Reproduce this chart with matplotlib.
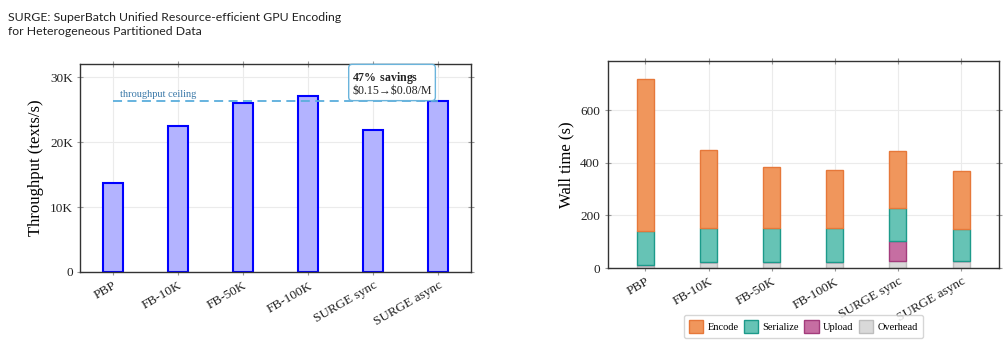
import numpy as np
import matplotlib
matplotlib.use("Agg")
import matplotlib.pyplot as plt

plt.rcParams['font.family'] = ['Liberation Serif', 'DejaVu Serif']
plt.rcParams['mathtext.fontset'] = 'custom'
plt.rcParams['mathtext.rm'] = 'Liberation Serif'
plt.rcParams['mathtext.bf'] = 'Liberation Serif:bold'

methods = ["PBP", "FB-10K", "FB-50K", "FB-100K", "SURGE sync", "SURGE async"]
throughput = [13750, 22500, 26100, 27100, 21900, 26400]
ceiling = 26400

# wall time breakdown (s), stacked bottom -> top
overhead = [13, 21, 21, 21, 25, 25]
upload = [0, 0, 0, 0, 79, 3]
serialize = [128, 131, 131, 131, 123, 120]
encode = [576, 295, 233, 219, 218, 219]

fig = plt.figure(figsize=(10.06, 3.46), dpi=100)
ax1 = fig.add_axes([0.080, 0.214, 0.388, 0.600])
ax2 = fig.add_axes([0.604, 0.2254, 0.389, 0.599])

fig.text(0.008, 0.965, "SURGE: SuperBatch Unified Resource-efficient GPU Encoding\nfor Heterogeneous Partitioned Data",
         family=['Lato', 'DejaVu Sans'], fontsize=8.8, va='top', ha='left', linespacing=1.35, color='#222')

x = np.arange(len(methods))


def style(ax):
    ax.grid(True, color='#ebebeb', lw=0.8)
    ax.set_axisbelow(True)
    ax.tick_params(direction='inout', length=4, color='#999', labelsize=9.5,
                   top=True, right=True, labelcolor='#222')
    for s in ax.spines.values():
        s.set_color('#333')
        s.set_linewidth(1.0)
    ax.set_xticks(x)
    ax.set_xticklabels(methods, rotation=30, ha='right', rotation_mode='anchor')


# left: throughput
ax1.bar(x, throughput, width=0.31, color='#b3b3ff', edgecolor='#0000ff', lw=1.5)
ax1.set_xlim(-0.5, 5.5)
ax1.set_ylim(0, 32000)
ax1.set_yticks([0, 10000, 20000, 30000])
ax1.set_yticklabels(["0", "10K", "20K", "30K"])
ax1.set_ylabel("Throughput (texts/s)", fontsize=12)
style(ax1)
ax1.plot([x[0], x[-1]], [ceiling, ceiling], ls=(0, (5, 3)), color='#5aaedc', lw=1.3)
ax1.text(0.1, ceiling + 200, "throughput ceiling", fontsize=7.5, color='#3a78a8', va='bottom')
ax1.text(4.9, ceiling + 560, r"$\mathbf{47\%\ savings}$" + "\n" + "\\$0.15\u2192\\$0.08/M",
         fontsize=8.6, va='bottom', ha='right', multialignment='left', linespacing=0.9, color='#222',
         bbox=dict(boxstyle='round,pad=0.3', fc='white', ec='#6ab4dc', lw=1))

# right: wall time breakdown
w = 0.27
b = np.zeros(len(x))
parts = [("Overhead", overhead, '#d9d9d9', '#bdbdbd'),
         ("Upload", upload, '#c66ea2', '#a33c7c'),
         ("Serialize", serialize, '#66c3b5', '#1c9a8a'),
         ("Encode", encode, '#f0965c', '#e6783a')]
handles = {}
for name, vals, fc, ec in parts:
    handles[name] = ax2.bar(x, vals, width=w, bottom=b, color=fc, edgecolor=ec, lw=1.0)
    b = b + np.array(vals)
ax2.set_xlim(-0.6, 5.6)
ax2.set_ylim(0, 787)
ax2.set_yticks([0, 200, 400, 600])
ax2.set_ylabel("Wall time (s)", fontsize=12)
style(ax2)
order = ["Encode", "Serialize", "Upload", "Overhead"]
ax2.legend([handles[n] for n in order], order, loc='upper center', bbox_to_anchor=(0.5, -0.2),
           ncol=4, fontsize=7.5, frameon=True, edgecolor='#ccc', fancybox=True, borderpad=0.5,
           handlelength=1.4, handleheight=1.6, handletextpad=0.4, columnspacing=0.5)

fig.savefig("out.png", dpi=100)
